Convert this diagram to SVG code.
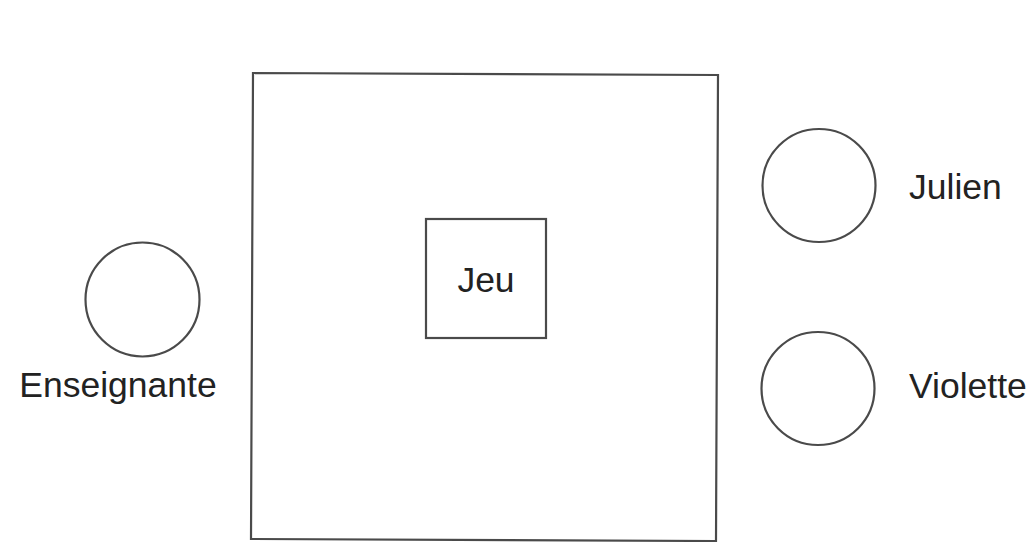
<svg xmlns="http://www.w3.org/2000/svg" width="1036" height="542" viewBox="0 0 1036 542">
  <style>
    .shape { fill: none; stroke: #4a4a4a; stroke-width: 2.2; }
    .label { font-family: "Liberation Sans", Arial, sans-serif; font-size: 35.5px; fill: #222; }
  </style>
  <rect width="1036" height="542" fill="#ffffff"/>
  <g id="table">
    <polygon class="shape" points="253,73 718,75 716,541 251,539"/>
  </g>
  <g id="jeu">
    <rect class="shape" x="426" y="219" width="120" height="119"/>
    <text class="label" x="486" y="292" text-anchor="middle">Jeu</text>
  </g>
  <g id="enseignante">
    <circle class="shape" cx="142.5" cy="299.5" r="57"/>
    <text class="label" x="118" y="397" text-anchor="middle">Enseignante</text>
  </g>
  <g id="julien">
    <circle class="shape" cx="819" cy="185.5" r="56.5"/>
    <text class="label" x="909" y="199">Julien</text>
  </g>
  <g id="violette">
    <circle class="shape" cx="818" cy="388.5" r="56.5"/>
    <text class="label" x="909" y="398">Violette</text>
  </g>
  <g id="connectors"></g>
</svg>
